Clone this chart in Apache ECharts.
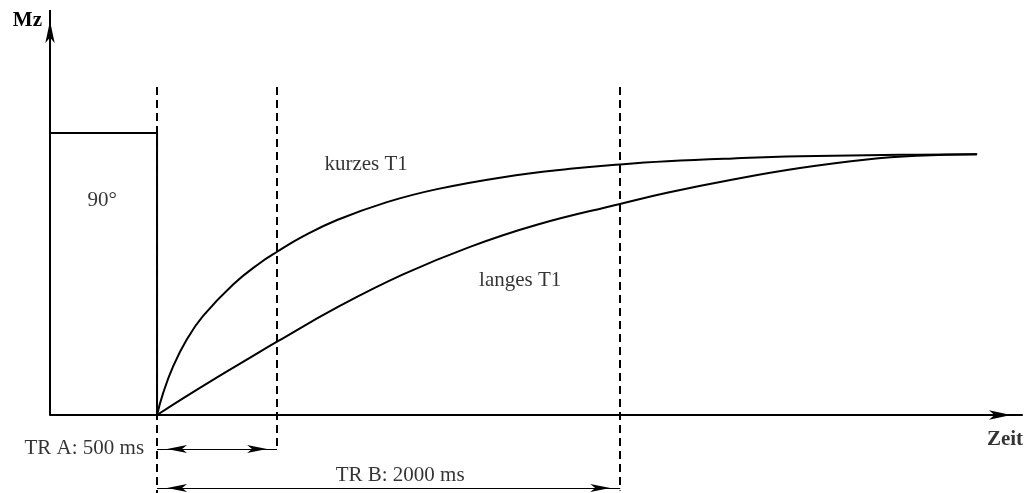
<!DOCTYPE html>
<html>
<head>
<meta charset="utf-8">
<script src="https://cdn.jsdelivr.net/npm/echarts@6/dist/echarts.min.js"></script>
<style>html,body{margin:0;padding:0;background:#fff}#c{width:1027px;height:493px}</style>
</head>
<body>
<div id="c"></div>
<script>
// time in ms (schematic), Mz relative
const kurzT  = [0, 25, 67, 125, 192, 317, 429, 500, 608, 750, 958, 1167, 1442, 1721, 1929, 2125, 2400, 2679, 3096, 3417];
const kurzMz = [0, 0.083, 0.187, 0.292, 0.381, 0.502, 0.585, 0.628, 0.687, 0.750, 0.819, 0.869, 0.915, 0.947, 0.964, 0.976, 0.987, 0.995, 1.001, 1.003];
const langT  = [0, 108, 250, 388, 500, 750, 1025, 1304, 1583, 1929, 2125, 2400, 2679, 2958, 3167, 3417];
const langMz = [0, 0.064, 0.145, 0.221, 0.282, 0.414, 0.541, 0.647, 0.732, 0.812, 0.855, 0.906, 0.950, 0.983, 0.997, 1.003];
const pulseT  = [-446, 0, 0];
const pulseMz = [1.085, 1.085, 0];
const trT = [0, 500, 1930];
const dashTopMz = 1.262;
const dashBottomMz = [-0.3, -0.135, -0.29];
const trArrowMz = [-0.131, -0.281];   // TR A, TR B arrow levels
const labels = ['90°', 'kurzes T1', 'langes T1', 'TR A: 500 ms', 'TR B: 2000 ms', 'Zeit'];
const labelT  = [-229, 871, 1513, -54, 1013, 3533];
const labelMz = [0.827, 0.962, 0.519, -0.127, -0.231, -0.096];
const xMin = -446, xMax = 3604, yMin = -0.3, yMax = 1.558;

const FONT = 'Liberation Serif';
const chart = echarts.init(document.getElementById('c'), null, {renderer: 'canvas'});

const zip = (a, b) => a.map((v, i) => [v, b[i]]);
const arrowEnd = (coord) => ({coord, symbol: 'arrow', symbolSize: [6, 20], symbolOffset: [0, 10]});

const dashedLines = trT.map((t, i) => [
  {coord: [t, dashTopMz], symbol: 'none'},
  {coord: [t, dashBottomMz[i]], symbol: 'none'}
]);

const labelData = labels.map((s, i) => ({
  name: s,
  value: [labelT[i], labelMz[i]],
  label: {
    align: (i === 3) ? 'right' : 'center',
    fontWeight: (i === 5) ? 'bold' : 'normal'
  }
}));

chart.setOption({
  animation: false,
  grid: {left: 50, right: 5, top: 10, bottom: 0},
  xAxis: {
    type: 'value', min: xMin, max: xMax,
    axisLine: {onZero: true, symbol: ['none', 'arrow'], symbolSize: [7, 22], symbolOffset: [0, -11],
      lineStyle: {color: '#000', width: 2}},
    axisTick: {show: false}, axisLabel: {show: false}, splitLine: {show: false}
  },
  yAxis: {
    type: 'value', min: yMin, max: yMax,
    axisLine: {show: false, onZero: false},
    axisTick: {show: false}, axisLabel: {show: false}, splitLine: {show: false},
    name: 'Mz', nameLocation: 'end', nameGap: -11,
    nameTextStyle: {fontFamily: FONT, fontSize: 21, fontWeight: 'bold', color: '#000',
      align: 'right', verticalAlign: 'middle', padding: [0, 8, 0, 0]}
  },
  series: [
    {
      type: 'line', data: [], silent: true,
      markLine: {
        silent: true, symbol: ['none', 'none'], label: {show: false},
        lineStyle: {color: '#000', width: 2, type: [8, 5]},
        emphasis: {disabled: true},
        data: dashedLines
      }
    },
    {
      type: 'line', data: [], silent: true,
      markLine: {
        silent: true, symbol: ['none', 'none'], label: {show: false},
        emphasis: {disabled: true},
        data: [
          [{coord: [xMin, 0], symbol: 'none', lineStyle: {color: '#000', width: 2, type: 'solid'}},
           {coord: [xMin, yMax], symbol: 'arrow', symbolSize: [7, 22], symbolOffset: [0, 11]}],
          [Object.assign(arrowEnd([trT[0], trArrowMz[0]]), {lineStyle: {color: '#000', width: 1, type: 'solid'}}),
           arrowEnd([trT[1], trArrowMz[0]])],
          [Object.assign(arrowEnd([trT[0], trArrowMz[1]]), {lineStyle: {color: '#000', width: 1, type: 'solid'}}),
           arrowEnd([trT[2], trArrowMz[1]])]
        ]
      }
    },
    {
      type: 'line', data: zip(pulseT, pulseMz), showSymbol: false, silent: true,
      lineStyle: {color: '#000', width: 2}
    },
    {
      type: 'line', data: zip(kurzT, kurzMz), showSymbol: false, silent: true,
      smooth: 0.45,
      lineStyle: {color: '#000', width: 2}
    },
    {
      type: 'line', data: zip(langT, langMz), showSymbol: false, silent: true,
      smooth: 0.45,
      lineStyle: {color: '#000', width: 2}
    },
    {
      type: 'scatter', data: labelData, symbolSize: 1, silent: true,
      itemStyle: {color: 'rgba(0,0,0,0)'},
      label: {show: true, position: 'inside', formatter: '{b}', color: '#000',
        fontFamily: FONT, fontSize: 21, verticalAlign: 'middle'}
    }
  ]
});
</script>
</body>
</html>
